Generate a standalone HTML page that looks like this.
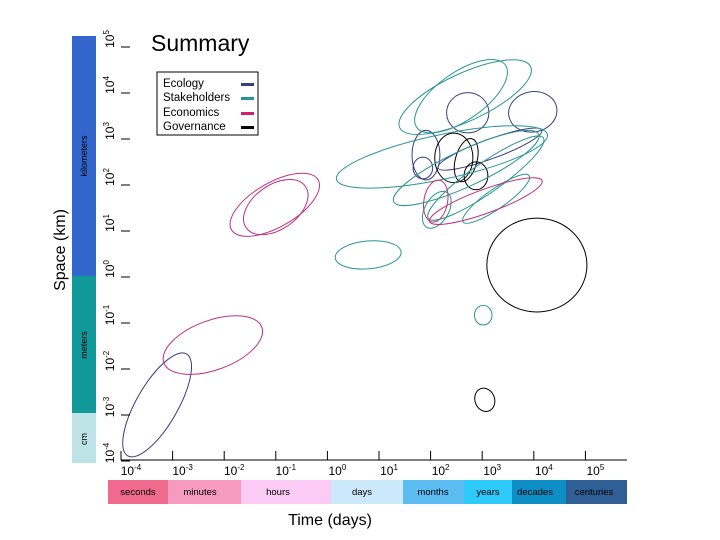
<!DOCTYPE html>
<html><head><meta charset="utf-8"><style>
html,body{margin:0;padding:0;background:#fff;}
svg{display:block;font-family:"Liberation Sans",sans-serif;}
</style></head><body>
<svg id="chart" width="720" height="540" viewBox="0 0 720 540" xmlns="http://www.w3.org/2000/svg">
<rect x="0" y="0" width="720" height="540" fill="#fff"/>
<text x="151" y="51" font-size="23" fill="#000">Summary</text>
<g id="marks"></g>
<g id="axes"></g>
<g>
<rect x="157" y="72" width="101" height="63" fill="#fff" stroke="#000" stroke-width="1"/>
<text x="163" y="87" font-size="11.5">Ecology</text>
<text x="163" y="101" font-size="11.5">Stakeholders</text>
<text x="163" y="116" font-size="11.5">Economics</text>
<text x="163" y="130" font-size="11.5">Governance</text>
<rect x="241" y="83" width="13" height="3" fill="#3c3c80"/>
<rect x="241" y="97" width="13" height="3" fill="#2a9595"/>
<rect x="241" y="112" width="13" height="3" fill="#d0206e"/>
<rect x="241" y="126" width="13" height="3" fill="#000"/>
</g>
<g>
<rect x="72" y="36" width="24" height="240" fill="#3366cc"/>
<rect x="72" y="276" width="24" height="137" fill="#119999"/>
<rect x="72" y="413" width="24" height="50" fill="#bde3e6"/>
<text transform="translate(87,156) rotate(-90)" text-anchor="middle" font-size="9">kilometers</text>
<text transform="translate(87,345) rotate(-90)" text-anchor="middle" font-size="9">meters</text>
<text transform="translate(87,439) rotate(-90)" text-anchor="middle" font-size="9">cm</text>
</g>
<text transform="translate(65,250) rotate(-90)" text-anchor="middle" font-size="16">Space (km)</text>
<g font-size="9.5" text-anchor="middle">
<rect x="108" y="480" width="60" height="24" fill="#f06a8e"/><text x="138" y="495">seconds</text>
<rect x="168" y="480" width="73" height="24" fill="#f79ac0"/><text x="200" y="495">minutes</text>
<rect x="241" y="480" width="90" height="24" fill="#fccbf5"/><text x="278" y="495">hours</text>
<rect x="331" y="480" width="72" height="24" fill="#cce9fb"/><text x="362" y="495">days</text>
<rect x="403" y="480" width="61" height="24" fill="#5bbcf2"/><text x="433" y="495">months</text>
<rect x="464" y="480" width="48" height="24" fill="#2ecbfa"/><text x="488" y="495">years</text>
<rect x="512" y="480" width="54" height="24" fill="#0d8fc6"/><text x="535" y="495">decades</text>
<rect x="566" y="480" width="61" height="24" fill="#2f5f94"/><text x="594" y="495">centuries</text>
</g>
<text x="330" y="525" text-anchor="middle" font-size="16">Time (days)</text>
</svg>
<script>
// ellipse data: centre in log10 units, semi-axes in decades, rotation degrees
const names  = ['E1','E2','E3','E4','E5','E6','G1','G2','G3','G4','G5','S1','S2','S3','S4','S5','S6','S7','S8','S9','M1','M2','M3','M4','M5'];
const groups = ['eco','eco','eco','eco','eco','eco','gov','gov','gov','gov','gov','stk','stk','stk','stk','stk','stk','stk','stk','stk','econ','econ','econ','econ','econ'];
const logTime  = [-3.30,2.72,3.98,1.91,1.85,3.15, 4.06,3.05,2.45,2.69,2.88, 2.67,2.59,2.22,2.69,3.07,3.27,2.12,0.79,3.02, -1.02,-1.00,-2.22,3.07,2.10];
const logSpace = [-2.78,3.57,3.59,2.65,2.37,2.78, 0.26,-2.67,2.59,2.54,2.20, 3.91,3.93,2.61,2.37,2.15,1.70,1.46,0.48,-0.83, 1.57,1.52,-1.48,1.65,1.65];
const semiA = [1.14,0.41,0.47,0.27,0.19,1.07, 0.97,0.19,0.37,0.21,0.23, 1.40,1.05,2.09,1.55,1.36,0.78,0.39,0.64,0.17, 0.97,0.70,1.01,1.16,0.23];
const semiB = [0.40,0.39,0.39,0.48,0.21,0.19, 0.91,0.23,0.48,0.43,0.27, 0.46,0.46,0.43,0.35,0.29,0.19,0.23,0.27,0.19, 0.43,0.43,0.48,0.23,0.41];
const angle = [-60,0,-10,0,0,-20, 0,-20,0,15,0, -25,-35,-12,-25,-35,-35,-60,-5,0, -30,-35,-20,-20,10];
const xTickExp = [-4,-3,-2,-1,0,1,2,3,4,5];
const yTickExp = [-4,-3,-2,-1,0,1,2,3,4,5];
const colors = {eco:'#3c3c80', gov:'#000000', stk:'#2a9595', econ:'#c0307f'};

const PX = 51.6, PY = 46;
function xScale(l){ return 121 + PX*(l+4); }
function yScale(l){ return 47 + PY*(5-l); }
const NS = 'http://www.w3.org/2000/svg';
const marks = document.getElementById('marks');
names.forEach((n,i)=>{
  const e = document.createElementNS(NS,'ellipse');
  const cx = xScale(logTime[i]), cy = yScale(logSpace[i]);
  e.setAttribute('cx',cx); e.setAttribute('cy',cy);
  e.setAttribute('rx',semiA[i]*PX); e.setAttribute('ry',semiB[i]*PX);
  e.setAttribute('transform','rotate('+angle[i]+' '+cx+' '+cy+')');
  e.setAttribute('fill','none'); e.setAttribute('stroke',colors[groups[i]]); e.setAttribute('stroke-width','1');
  
  
  marks.appendChild(e);
});
const axes = document.getElementById('axes');
const xl = document.createElementNS(NS,'line');
xl.setAttribute('x1',121); xl.setAttribute('x2',627); xl.setAttribute('y1',460); xl.setAttribute('y2',460);
xl.setAttribute('stroke','#000');


axes.appendChild(xl);
function lbl(exp, x, y, rot){
  const t = document.createElementNS(NS,'text');
  t.setAttribute('font-size','12'); t.setAttribute('text-anchor','middle');
  if(rot) t.setAttribute('transform','translate('+x+','+y+') rotate(-90)');
  else { t.setAttribute('x',x); t.setAttribute('y',y); }
  t.innerHTML = '10<tspan font-size="8" dy="-5">'+exp+'</tspan>';
  return t;
}
xTickExp.forEach(v=>{
  const x = xScale(v);
  const l = document.createElementNS(NS,'line');
  l.setAttribute('x1',x); l.setAttribute('x2',x); l.setAttribute('y1',451); l.setAttribute('y2',460); l.setAttribute('stroke','#000');
  
  
  axes.appendChild(l);
  const t = lbl(v, x+10, 475, false);
  
  
  axes.appendChild(t);
});
yTickExp.forEach(v=>{
  const y = yScale(v);
  const l = document.createElementNS(NS,'line');
  l.setAttribute('x1',121); l.setAttribute('x2',130); l.setAttribute('y1',y); l.setAttribute('y2',y); l.setAttribute('stroke','#000');
  
  
  axes.appendChild(l);
  const t = lbl(v, 114, y-8, true);
  
  
  axes.appendChild(t);
});
</script>
</body></html>
